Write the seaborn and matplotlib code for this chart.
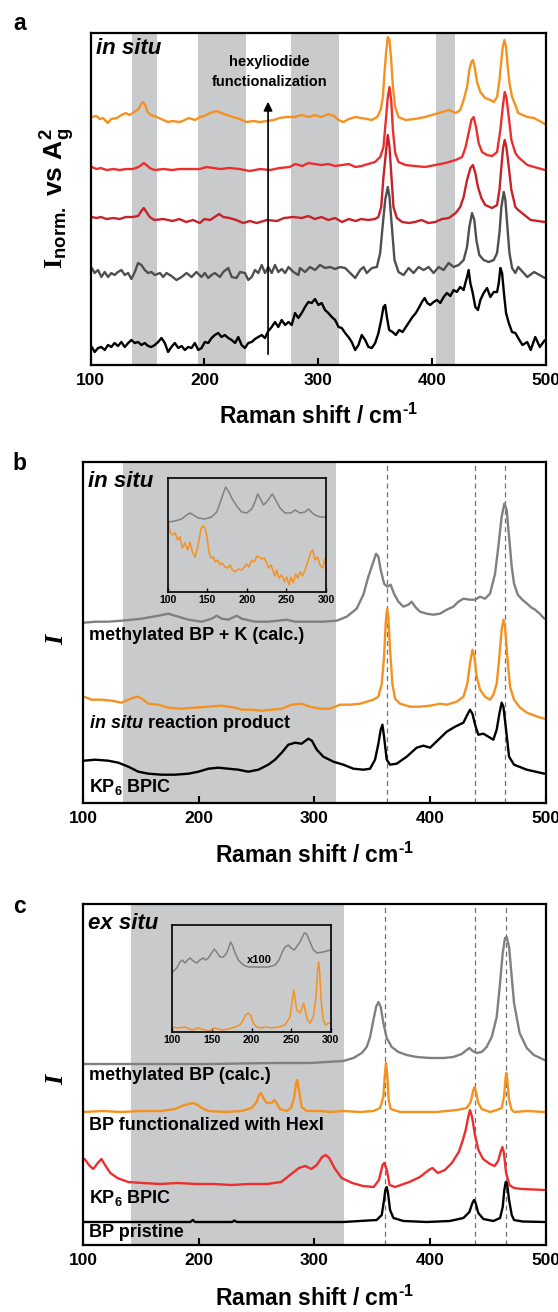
import numpy as np
import pandas as pd
import matplotlib
matplotlib.use("Agg")
import matplotlib.pyplot as plt
import seaborn as sns

# ---- values: Raman shift (cm-1), stacked intensity (arb. units) ----
a_orange = np.array([
    (101, 248), (105, 249), (108, 246), (111, 247), (115, 242), (118, 246), (123, 247), (127, 250),
    (131, 252), (134, 250), (137, 252), (142, 256), (145, 262), (146, 263), (148, 260), (150, 253),
    (153, 250), (158, 248), (164, 245), (168, 243), (172, 244), (178, 243), (181, 244), (186, 247),
    (192, 245), (196, 248), (200, 249), (205, 252), (211, 254), (215, 252), (220, 250), (225, 248),
    (231, 246), (237, 243), (243, 244), (249, 243), (255, 244), (261, 245), (266, 247), (272, 248),
    (279, 248), (286, 250), (292, 248), (297, 250), (303, 248), (309, 251), (314, 249), (318, 245),
    (322, 243), (327, 246), (333, 248), (338, 247), (343, 246), (347, 245), (352, 248), (355, 255),
    (357, 268), (358.4, 292), (360, 315), (361.3, 328), (362.8, 325), (364.3, 305), (365.8, 278),
    (367.8, 258), (370.7, 248), (377, 245), (385, 246), (394, 248), (403, 251), (409, 253), (415, 255),
    (421, 252), (425, 255), (428, 265), (431, 278), (433, 295), (434.8, 303), (436.2, 305), (437.7, 298),
    (439.8, 283), (442.7, 273), (447, 267), (451.5, 265), (454.5, 263), (457.4, 268), (459.5, 285),
    (461.2, 305), (462.4, 318), (463.9, 325), (465.3, 318), (466.8, 298), (468.3, 282), (470.6, 268),
    (473.5, 260), (476, 252), (484, 248), (490, 247), (499.5, 241)])

a_red = np.array([
    (101, 198), (105, 196), (109, 197), (114, 195), (120, 196), (125.5, 195), (131, 196), (137, 196),
    (142, 198), (144.6, 200), (146.7, 202), (149, 200), (152, 197), (156, 195), (164, 196), (172, 195),
    (178, 196), (187, 196), (196, 196), (202, 198), (208, 197), (214, 196), (222, 197), (231, 196),
    (240, 194), (249, 196), (258, 195), (266, 197), (275, 198), (280, 201), (286, 199), (291.5, 202),
    (297, 201), (303, 200), (309, 201), (315, 199), (321, 200), (327, 201), (333, 198), (338, 199),
    (344, 201), (350, 203), (354.6, 208), (357.5, 218), (359.6, 245), (361.3, 268), (362.8, 278),
    (364.3, 265), (365.8, 235), (367.8, 212), (370.7, 203), (377, 200), (385, 199), (394, 198),
    (403, 200), (412, 202), (421, 205), (426.6, 208), (429.5, 217), (432.4, 232), (434.8, 245),
    (436.8, 248), (438.9, 238), (441.2, 222), (444.2, 213), (448.6, 210), (453, 209), (457.4, 213),
    (460.3, 235), (462.4, 258), (464.1, 273), (465.6, 268), (467.7, 248), (470, 225), (473.5, 212),
    (476, 208), (484, 200), (499.5, 195)])

a_darkred = np.array([
    (101, 148), (105, 147), (109, 148), (114, 146), (120, 147), (125.5, 146), (131, 148), (137, 148),
    (141.7, 149), (144.6, 154), (146.7, 157), (149, 153), (152, 148), (156, 145), (164, 146), (172, 144),
    (178, 146), (184, 143), (190, 145), (196, 142), (200, 146), (205, 145), (209, 148), (213, 151),
    (216.6, 148), (222, 147), (228, 145), (234, 142), (240, 144), (246, 142), (255, 145), (264, 144),
    (270, 147), (278, 148), (285.6, 147), (291.5, 149), (297, 146), (303, 148), (309, 145), (315, 147),
    (321, 143), (327, 146), (333, 144), (338, 146), (344, 145), (350, 146), (353, 148), (355.5, 158),
    (357.5, 188), (359.6, 212), (361.3, 230), (362.8, 218), (364.3, 192), (366.3, 158), (369.3, 147),
    (374, 143), (380, 142), (385, 143), (391, 145), (397, 142), (403, 143), (409, 146), (415, 147),
    (421, 152), (425, 158), (428, 168), (431, 185), (434, 197), (436.2, 200), (438.3, 192), (440.6, 178),
    (443.6, 167), (447, 160), (453, 157), (457.4, 160), (459.5, 175), (461.2, 198), (462.7, 217),
    (464.1, 225), (465.6, 218), (467.7, 198), (470, 175), (473.5, 158), (476, 155), (487, 145),
    (499.5, 143)])

a_gray = np.array([
    (101, 97), (103.5, 92), (106.5, 95), (109.4, 88), (112.3, 93), (115.3, 88), (118.2, 92), (121, 90),
    (124, 93), (127, 95), (130, 90), (133, 92), (135.8, 86), (138.8, 93), (141.7, 102), (144.6, 100),
    (147.6, 95), (150.5, 92), (153.4, 93), (156.4, 90), (161, 92), (163.7, 88), (166.7, 92), (171, 89),
    (175.5, 85), (180, 88), (184.3, 92), (188.7, 88), (193, 93), (197.5, 88), (200.4, 92), (203.4, 87),
    (206.3, 90), (209.2, 92), (213.7, 88), (216.6, 93), (221, 97), (224, 88), (228.3, 87), (231.3, 93),
    (235.7, 92), (238.6, 85), (241.6, 88), (244.5, 95), (247.4, 92), (250.4, 100), (253.3, 92),
    (256.2, 98), (259.2, 92), (262.1, 100), (265, 93), (268, 96), (271, 92), (274, 98), (278.3, 93),
    (282.7, 90), (284.1, 97), (288.5, 93), (292.9, 98), (297.3, 95), (301.7, 100), (306.1, 97),
    (310.5, 98), (315, 96), (319.3, 98), (323.8, 97), (328.2, 92), (332.6, 87), (337, 95), (340, 98),
    (342.8, 92), (347.3, 97), (351.7, 98), (354.6, 112), (356.7, 138), (359, 165), (361.3, 178),
    (362.8, 168), (364.9, 138), (367.2, 105), (370.7, 93), (375.2, 90), (379.6, 97), (384, 92),
    (388.4, 98), (392.8, 95), (397.2, 98), (401.6, 92), (406, 98), (410.4, 95), (414.8, 102),
    (419.2, 98), (423.6, 100), (428, 105), (431, 118), (433, 138), (435.4, 152), (437.4, 145),
    (439.2, 125), (441.8, 110), (445.6, 105), (450, 103), (454.5, 105), (457.4, 112), (459.5, 132),
    (461.2, 158), (463.3, 173), (464.7, 165), (466.5, 138), (468.3, 112), (470.6, 97), (473.5, 92),
    (476, 98), (484, 88), (490, 93), (499.5, 87)])

a_black = np.array([
    (101, 18), (103.5, 13), (106.5, 17), (109.4, 18), (112.3, 15), (115.3, 20), (118.2, 18), (121, 22),
    (124, 19), (127, 23), (130, 18), (133, 22), (135.8, 25), (138.8, 22), (141.7, 23), (144.6, 20),
    (147.6, 22), (150.5, 19), (153.4, 18), (156.4, 20), (159.3, 23), (162.3, 27), (165.2, 22),
    (168.1, 13), (171, 18), (174, 22), (177, 17), (180, 19), (182.8, 15), (185.8, 18), (188.7, 17),
    (191.6, 22), (194.6, 15), (197.5, 17), (200.4, 23), (203.4, 22), (206.3, 27), (209.2, 30),
    (212.2, 32), (215, 28), (218, 30), (221, 27), (224, 25), (227, 22), (229.8, 28), (232.7, 20),
    (235.7, 17), (238.6, 22), (241.6, 23), (244.5, 26), (247.4, 28), (250.4, 30), (253.3, 27),
    (256.2, 34), (259.2, 38), (262.1, 43), (265, 38), (268, 45), (271, 40), (274, 43), (276.8, 40),
    (279.7, 52), (282.6, 47), (285.6, 52), (288.5, 58), (291.4, 63), (294.4, 62), (297.3, 66),
    (300.3, 60), (303.2, 62), (306.1, 55), (309, 52), (312, 48), (315, 45), (318, 38), (320.8, 37),
    (323.8, 32), (326.7, 28), (329.6, 23), (332.6, 15), (335.5, 20), (338.4, 30), (341.4, 25),
    (344.3, 18), (347.3, 17), (350.2, 22), (353.1, 32), (355.5, 45), (357.5, 58), (359, 60),
    (360.5, 48), (362.5, 35), (365.5, 33), (368.4, 30), (371.3, 35), (374.3, 33), (377.2, 38),
    (380.1, 43), (383, 48), (386, 52), (389, 58), (391.3, 63), (393.7, 67), (396, 62), (398.6, 60),
    (401.6, 63), (404.5, 65), (407.5, 62), (410.4, 68), (413.3, 72), (416.3, 69), (419.2, 75),
    (422, 73), (425, 78), (428, 75), (429.5, 82), (431, 88), (432.4, 95), (433.9, 82), (436, 72),
    (438.3, 58), (440.6, 55), (442.7, 65), (445.6, 72), (448.6, 77), (451.5, 68), (454.5, 73),
    (457.4, 73), (458.9, 82), (460.3, 97), (461.8, 92), (463.8, 68), (465.3, 52), (467.7, 42),
    (470.6, 33), (473.5, 32), (476, 27), (479.7, 20), (483.9, 23), (487, 15), (491, 28), (495, 18),
    (499.5, 25)])

b_calc = np.array([
    (101, 180), (110.5, 181), (122, 181), (133.5, 182), (150.8, 184), (165.2, 187), (173.9, 189),
    (179.6, 187), (191.2, 183), (202.7, 181), (211.3, 184), (215.7, 187), (220, 184), (225.7, 183),
    (233, 187), (237.3, 184), (248.8, 181), (260.3, 181), (269, 182), (276.2, 183), (283.4, 181),
    (294.9, 181), (307.9, 181), (319.5, 182), (328.1, 186), (336.7, 194), (342.5, 208), (346.8, 226),
    (350.6, 239), (353.5, 249), (355.5, 246), (357.5, 233), (360.4, 219), (363.3, 216), (366.1, 218),
    (369, 209), (372.8, 201), (377.1, 196), (381.4, 198), (384.3, 201), (387.2, 196), (391.5, 191),
    (397.3, 189), (403, 188), (408.8, 189), (414.6, 193), (420.3, 196), (424.7, 201), (429, 204),
    (434.7, 203), (439.1, 203), (443.4, 206), (447.7, 204), (452, 209), (456.4, 229), (459.2, 256),
    (462.1, 286), (464.4, 299), (466.4, 293), (468.5, 266), (470.8, 236), (472.8, 219), (476, 208),
    (480, 203), (484, 199), (488, 195), (491, 193), (495, 189), (499, 184)])

b_product = np.array([
    (101, 106), (107.6, 103), (116.2, 103), (124.9, 102), (133.5, 100), (139.3, 103), (143.6, 105),
    (147.9, 106), (152.2, 103), (156.6, 99), (165.2, 98), (173.9, 95), (185.4, 94), (196.9, 95),
    (208.5, 96), (220, 97), (231.5, 95), (237.3, 93), (245.9, 93), (254.6, 92), (263.2, 93),
    (271.9, 94), (280.5, 98), (289.1, 99), (296.4, 96), (305, 94), (313.7, 94), (322.3, 98), (331, 98),
    (339.6, 99), (345.4, 101), (351.2, 103), (355.5, 106), (358.4, 119), (360.4, 146), (361.8, 179),
    (363, 194), (364.1, 186), (365.6, 153), (367.6, 119), (369.9, 104), (374.2, 99), (382.9, 96),
    (391.5, 96), (400.2, 97), (408.8, 99), (414.6, 98), (423.2, 101), (429, 106), (432.4, 119),
    (434.7, 139), (436.8, 153), (438.5, 146), (440.5, 126), (443.4, 113), (447.7, 106), (452, 103),
    (454.9, 108), (457.8, 119), (460.1, 146), (462.1, 173), (463.6, 183), (465, 176), (467, 146),
    (469.3, 116), (472.8, 103), (478, 95), (484, 90), (493, 86), (499.1, 84)])

b_kp6 = np.array([
    (101, 42), (110.5, 43), (122, 42), (130.6, 40), (139.3, 36), (147.9, 31), (156.6, 29), (168.1, 28),
    (179.6, 28), (191.2, 29), (199.8, 31), (208.5, 34), (217.1, 35), (225.7, 34), (234.4, 33),
    (243, 31), (251.7, 33), (260.3, 38), (266.1, 43), (271.9, 50), (277.6, 58), (283.4, 60),
    (289.1, 59), (294.9, 64), (298, 62), (302.2, 53), (307.9, 46), (316.6, 41), (325.2, 38),
    (333.9, 34), (342.5, 33), (348.3, 34), (352.6, 43), (355.5, 59), (357.5, 73), (359, 78),
    (360.4, 66), (362.7, 43), (365.6, 38), (371.3, 39), (380, 46), (388.6, 55), (394.4, 57),
    (400.2, 55), (407.4, 63), (414.6, 71), (421.8, 76), (429, 80), (432.4, 88), (434.7, 93),
    (436.8, 89), (439.1, 78), (441.9, 68), (446.3, 69), (450.6, 66), (454.9, 63), (457.8, 73),
    (460.1, 89), (462.1, 100), (463.6, 96), (465.9, 73), (468.5, 46), (472.8, 38), (483.8, 33),
    (499.1, 29)])

b_inset_calc = np.array([
    (101.1, 70), (109.5, 71), (117.9, 73), (124.2, 77), (128.4, 79), (132.6, 77), (138.9, 74),
    (147.3, 73), (155.7, 75), (162.1, 80), (166.3, 89), (170.5, 99), (173.4, 105), (176.8, 101),
    (181, 94), (187.3, 86), (193.6, 80), (200, 79), (206.2, 83), (210.4, 90), (213.8, 98), (216.7, 94),
    (220.9, 87), (225.1, 90), (229.4, 95), (232.3, 98), (235.7, 93), (242, 84), (248.3, 79),
    (255.8, 79), (260.9, 82), (267.2, 79), (273.5, 80), (277.7, 83), (282.8, 79), (286.1, 77),
    (292.4, 75), (300, 75)])

b_inset_product = np.array([
    (101.1, 69), (103.2, 60), (106.1, 57), (109.5, 59), (112.8, 52), (115.8, 55), (118.7, 44),
    (122.1, 49), (125.5, 42), (128.4, 50), (131.4, 40), (134.7, 35), (137.2, 42), (139.8, 52),
    (142.3, 64), (145.2, 66), (147.3, 64), (149.9, 55), (152.4, 39), (154.9, 34), (157.8, 35),
    (160, 30), (163.3, 32), (166.3, 27), (169.2, 29), (172.6, 25), (175.9, 24), (178.9, 27),
    (181.8, 22), (185.2, 20), (189.4, 23), (193.6, 22), (197, 25), (199.9, 28), (202.9, 25),
    (206.2, 32), (209.6, 30), (212.5, 36), (215.5, 35), (218.8, 33), (222.2, 34), (225.1, 29),
    (227.2, 24), (230.6, 27), (233.6, 20), (235.7, 16), (237.8, 22), (240.7, 14), (244.1, 17),
    (247.4, 10), (250.4, 15), (253.3, 7), (255.8, 15), (258.8, 9), (261.7, 18), (264.3, 14),
    (267.2, 20), (270.1, 16), (273.5, 22), (275.6, 27), (278.6, 34), (281, 40), (283.2, 42),
    (286.1, 32), (289.1, 35), (292.4, 27), (295.8, 24), (298.3, 32), (300, 35)])

c_calc = np.array([
    (101, 181), (150.8, 181), (208.5, 181), (266.1, 182), (296.4, 182), (310.8, 183), (325.2, 184),
    (333.9, 187), (341.1, 192), (345.4, 198), (348.3, 208), (351.2, 225), (353.5, 238), (355.5, 243),
    (357.5, 238), (359.8, 222), (362.7, 207), (367, 198), (372.8, 193), (380, 190), (388.6, 188),
    (400.2, 187), (411.7, 187), (420.3, 188), (427.5, 191), (431.9, 195), (434.2, 197), (437, 194),
    (440.5, 192), (444.8, 193), (449.1, 198), (453.5, 208), (457.8, 228), (460.7, 262), (463, 292),
    (465, 307), (466.4, 308), (468.5, 298), (470.8, 268), (472.8, 242), (477.6, 212), (483.8, 197),
    (489.9, 190), (499.1, 185)])

c_hexi = np.array([
    (101, 133), (116.2, 134), (133.5, 133), (150.8, 134), (168.1, 134), (179.6, 136), (185.4, 139),
    (191.2, 141), (195.5, 142), (199.2, 140), (202.7, 137), (208.5, 134), (222.9, 133), (237.3, 134),
    (245.9, 137), (250.2, 143), (252.3, 150), (254, 152), (256, 147), (258.9, 142), (263.2, 142),
    (265.5, 145), (267.5, 142), (270.4, 136), (276.2, 134), (280, 137), (282.8, 148), (284.3, 162),
    (285.4, 165), (286.8, 155), (289.1, 138), (293.5, 134), (300.7, 134), (305, 134), (313.7, 133),
    (325.2, 134), (339.6, 133), (351.2, 134), (356.9, 137), (359.8, 148), (361.2, 172), (362.1, 182),
    (363.3, 168), (364.4, 145), (366.1, 136), (374.2, 133), (388.6, 133), (405.9, 133), (423.2, 135),
    (431.9, 137), (435.3, 143), (437.6, 155), (438.8, 158), (439.9, 153), (441.9, 142), (444.8, 136),
    (452, 133), (457.8, 135), (462.1, 137), (464.1, 148), (465.3, 165), (466.1, 172), (467, 165),
    (468.5, 145), (470.8, 135), (472.8, 133), (484, 134), (499.1, 133)])

c_kp6 = np.array([
    (101.5, 86), (105.2, 80), (108.9, 76), (112.9, 82), (116, 86), (119.1, 80), (123.7, 72),
    (129.8, 67), (139.1, 63), (151.4, 62), (166.8, 61), (182.2, 62), (197.5, 61), (212.9, 61),
    (228.3, 60), (243.7, 61), (259.1, 61), (271.4, 63), (279.1, 70), (286.8, 77), (292.3, 79),
    (297.5, 76), (302.2, 80), (306.8, 88), (309.9, 90), (313, 87), (317.5, 77), (323.7, 67),
    (332.9, 62), (342.2, 59), (351.4, 58), (356, 65), (359.1, 80), (360.6, 82), (362.8, 75),
    (365.2, 60), (369.9, 58), (382.2, 63), (391.4, 68), (399.1, 75), (402.2, 77), (406.8, 72),
    (413, 75), (419, 82), (425, 93), (428, 103), (431, 115), (433, 127), (434.7, 135), (436.5, 128),
    (439, 110), (442, 95), (446, 86), (452, 81), (456, 79), (459, 84), (461.2, 93), (462.7, 98),
    (464.1, 92), (465.9, 72), (468.8, 60), (472.8, 57), (480, 56), (490, 55.5), (499, 55)])

c_pristine = np.array([
    (101, 23), (150, 23), (193, 23), (195, 25), (197, 23), (229, 23), (231, 24.5), (233, 23),
    (296.4, 23), (325.2, 23), (354, 25), (358.4, 30), (360.4, 45), (361.5, 55), (362.7, 58),
    (363.8, 52), (365.6, 35), (368.5, 27), (377.1, 24), (397.3, 23), (417.4, 24), (429, 27),
    (434.2, 33), (436.8, 42), (438.2, 45), (439.6, 42), (441.9, 32), (446.3, 26), (454.9, 24),
    (460.7, 27), (463, 38), (464.4, 55), (465.6, 63), (466.7, 62), (468.5, 45), (470.8, 30),
    (472.8, 25), (480, 23.5), (499, 23)])

c_inset_calc = np.array([
    (100.4, 60), (105.5, 64), (109.7, 70), (112.6, 72), (116, 69), (119.4, 72), (122.3, 74),
    (126.5, 71), (130.7, 69), (134.9, 72), (139.1, 74), (142.1, 72), (145.4, 74), (149.6, 79),
    (153, 83), (156, 80), (160.2, 75), (164.4, 75), (168.6, 79), (171.5, 85), (173.6, 90), (175.7, 87),
    (179.1, 79), (183.3, 72), (189.6, 67), (195.9, 65), (204.3, 65), (212.7, 65), (221.1, 65),
    (229.6, 67), (234.6, 72), (238.8, 80), (242.2, 85), (246.4, 87), (249.8, 84), (254, 82),
    (258.2, 87), (261.1, 90), (264.1, 95), (266.6, 99), (269.5, 98), (273.7, 90), (277.9, 82),
    (283, 79), (290, 80), (300, 82)])

c_inset_hexi = np.array([
    (100.4, 5), (107.6, 4), (116, 5), (124.4, 2), (132.8, 4), (145.4, 1), (153.9, 4), (162.3, 2),
    (170.7, 3), (179.1, 5), (185.4, 7), (189.6, 12), (192.5, 17), (195.9, 19), (199.3, 16),
    (202.2, 9), (206.4, 5), (212.7, 4), (219, 5), (225.4, 4), (233.8, 5), (242.2, 7), (248.5, 15),
    (251.4, 32), (253.1, 42), (254.8, 34), (256.9, 22), (261.1, 19), (264.1, 25), (265.7, 29),
    (267.4, 22), (270.8, 12), (273.7, 9), (277.9, 15), (281.3, 35), (283.4, 62), (284.6, 70),
    (285.9, 60), (288, 29), (290.5, 12), (293.9, 7), (296.8, 9), (300, 9)])

a_bands = [(136.7, 158), (194.6, 236.3), (276.4, 318.1), (403.9, 420.2)]
b_band = (134.5, 318.5)
c_band = (141.6, 325.9)
b_guides = [363, 439.4, 465.3]
c_guides = [361.6, 439.4, 466.2]
arrow_shift = 256
x_ticks = [100, 200, 300, 400, 500]
inset_ticks = [100, 150, 200, 250, 300]

ORANGE = '#F59120'
RED = '#EC2F2E'
DARKRED = '#C62229'
DARKGRAY = '#4F4F4F'
GRAY = '#808080'
BAND = '#C9CACB'

sns.set_style("ticks")
plt.rcParams['font.family'] = ['Liberation Sans', 'DejaVu Sans']
plt.rcParams['font.weight'] = 'bold'
plt.rcParams['text.color'] = 'black'
plt.rcParams['axes.labelcolor'] = 'black'
plt.rcParams['mathtext.fontset'] = 'custom'
plt.rcParams['mathtext.rm'] = 'Liberation Sans:bold'
plt.rcParams['mathtext.bf'] = 'Liberation Sans:bold'
plt.rcParams['mathtext.it'] = 'Liberation Sans:italic:bold'
plt.rcParams['mathtext.sf'] = 'Liberation Serif:bold'

LW = 1.7


def draw(ax, arr, color, lw=LW):
    df = pd.DataFrame(arr, columns=['shift', 'I'])
    sns.lineplot(data=df, x='shift', y='I', ax=ax, color=color, lw=lw,
                 sort=False, estimator=None, legend=False)


def style_main(ax, ymax):
    ax.set_xlim(100, 500)
    ax.set_ylim(0, ymax)
    ax.set_xticks(x_ticks)
    ax.set_yticks([])
    ax.set_xlabel('')
    ax.set_ylabel('')
    ax.tick_params(axis='x', direction='in', length=5, width=1.5, labelsize=12.5, pad=6, colors='black')
    for s in ax.spines.values():
        s.set_linewidth(1.6)
        s.set_color('black')
    ax.text(0.5, -0.155, r'Raman shift / cm$^{\text{-}1}$', transform=ax.transAxes,
            ha='center', va='center', fontsize=16.5)


def style_inset(ax, ymax):
    ax.set_xlim(100, 300)
    ax.set_ylim(0, ymax)
    ax.set_xticks(inset_ticks)
    ax.set_yticks([])
    ax.set_xlabel('')
    ax.set_ylabel('')
    ax.patch.set_alpha(0)
    ax.tick_params(axis='x', direction='in', length=3, width=1, labelsize=7.5, pad=2.5, colors='black')
    for s in ax.spines.values():
        s.set_linewidth(1.2)
        s.set_color('black')


fig = plt.figure(figsize=(5.58, 13.12), dpi=100)

# ---------------- panel a ----------------
ax = fig.add_axes([0.1625, 0.7218, 0.8151, 0.2534])
for lo, hi in a_bands:
    ax.axvspan(lo, hi, color=BAND, lw=0, zorder=0)
draw(ax, a_black, 'black')
draw(ax, a_gray, DARKGRAY)
draw(ax, a_darkred, DARKRED)
draw(ax, a_red, RED)
draw(ax, a_orange, ORANGE)
style_main(ax, 332.5)
ax.annotate('', xy=(arrow_shift, 266), xytext=(arrow_shift, 8),
            arrowprops=dict(arrowstyle='-|>', color='black', lw=1.2, mutation_scale=13))
ax.text(arrow_shift + 1, 293, 'hexyliodide\nfunctionalization', ha='center', va='center',
        fontsize=10.5, linespacing=1.5)
ax.text(0.012, 0.953, 'in situ', transform=ax.transAxes, style='italic', fontsize=16,
        ha='left', va='center')
ax.text(-0.072, 0.5, r'$\mathsf{I}_{\mathrm{norm.}}$ vs A$_{\mathrm{g}}^{\mathrm{2}}$',
        transform=ax.transAxes, rotation=90, ha='center', va='center', fontsize=19)
fig.text(0.035, 0.9822, 'a', fontsize=16.5, ha='center', va='center')

# ---------------- panel b ----------------
ax = fig.add_axes([0.1486, 0.38819, 0.829, 0.25945])
ax.axvspan(*b_band, color=BAND, lw=0, zorder=0)
for g in b_guides:
    ax.axvline(g, color='#707070', lw=0.9, ls=(0, (4, 3)), zorder=1)
draw(ax, b_kp6, 'black')
draw(ax, b_product, ORANGE)
draw(ax, b_calc, GRAY)
style_main(ax, 340.4)
ax.text(0.011, 0.943, 'in situ', transform=ax.transAxes, style='italic', fontsize=16,
        ha='left', va='center')
ax.text(0.013, 0.49, 'methylated BP + K (calc.)', transform=ax.transAxes, fontsize=13, va='center')
ax.text(0.013, 0.233, r'$\mathit{in\ situ}$ reaction product', transform=ax.transAxes,
        fontsize=13, va='center')
ax.text(0.013, 0.047, r'KP$_{\mathrm{6}}$ BPIC', transform=ax.transAxes, fontsize=13, va='center')
ax.text(-0.056, 0.478, 'I', transform=ax.transAxes, rotation=90, ha='center', va='center',
        fontsize=19, family='Liberation Serif', style='italic', weight='bold')
fig.text(0.035, 0.6471, 'b', fontsize=16.5, ha='center', va='center')

axi = fig.add_axes([0.3002, 0.54878, 0.2841, 0.08727])
draw(axi, b_inset_calc, GRAY, lw=1.1)
draw(axi, b_inset_product, ORANGE, lw=1.1)
style_inset(axi, 114.5)

# ---------------- panel c ----------------
ax = fig.add_axes([0.1486, 0.05107, 0.829, 0.25991])
ax.axvspan(*c_band, color=BAND, lw=0, zorder=0)
for g in c_guides:
    ax.axvline(g, color='#707070', lw=0.9, ls=(0, (4, 3)), zorder=1)
draw(ax, c_pristine, 'black')
draw(ax, c_kp6, RED)
draw(ax, c_hexi, ORANGE)
draw(ax, c_calc, GRAY)
style_main(ax, 341)
ax.text(0.011, 0.944, 'ex situ', transform=ax.transAxes, style='italic', fontsize=16,
        ha='left', va='center')
ax.text(0.013, 0.4956, 'methylated BP (calc.)', transform=ax.transAxes, fontsize=13, va='center')
ax.text(0.013, 0.349, 'BP functionalized with HexI', transform=ax.transAxes, fontsize=13, va='center')
ax.text(0.013, 0.1378, r'KP$_{\mathrm{6}}$ BPIC', transform=ax.transAxes, fontsize=13, va='center')
ax.text(0.013, 0.036, 'BP pristine', transform=ax.transAxes, fontsize=13, va='center')
ax.text(-0.056, 0.484, 'I', transform=ax.transAxes, rotation=90, ha='center', va='center',
        fontsize=19, family='Liberation Serif', style='italic', weight='bold')
fig.text(0.035, 0.3087, 'c', fontsize=16.5, ha='center', va='center')

axi = fig.add_axes([0.3088, 0.21341, 0.2841, 0.08155])
draw(axi, c_inset_calc, GRAY, lw=1.1)
draw(axi, c_inset_hexi, ORANGE, lw=1.1)
style_inset(axi, 107)
axi.text(210, 72, 'x100', ha='center', va='center', fontsize=8)

fig.savefig('out.png', dpi=100)
